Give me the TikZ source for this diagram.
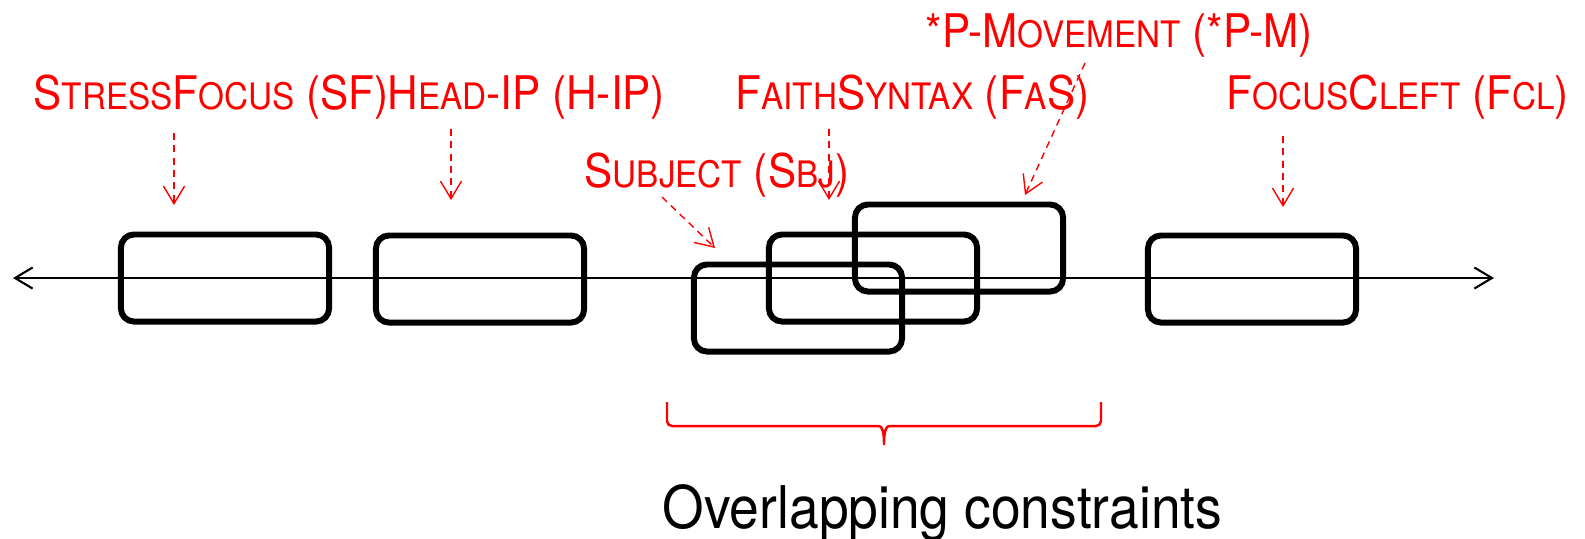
\documentclass[tikz,border=0pt]{standalone}
\usepackage{fontspec}
\setmainfont{TeX Gyre Heros}
\usetikzlibrary{arrows.meta}
\newcommand{\lsc}[1]{{\fontsize{9.6}{11}\selectfont #1}}
\newcommand{\tall}[1]{\scalebox{0.985}[1.08]{#1}}

\begin{document}
\begin{tikzpicture}[x=0.01cm,y=-0.01cm,>={Straight Barb[length=5pt,width=6pt]},
	con node/.style={draw,line width=1.7pt,rounded corners=0.13cm,minimum width=2.08cm,minimum height=0.87cm,inner sep=0},
	lab node/.style={anchor=base west,inner sep=0,text=red,font=\fontsize{12.2}{15}\selectfont},
	hint/.style={->,red,dash pattern=on 2pt off 1.5pt}]
	
	\useasboundingbox (0,0) rectangle (1585,538);
	
	% the line
	\coordinate (left) at (13,278);
	\coordinate (right) at (1494,278);
	\draw[<->,semithick] (left) -- (right);
	
	% constraints
	\node[con node] at (225,278) (sf) {};
	\node[con node] at (480,279) (hip) {};
	\node[con node] at (798,308) (sbj) {};
	\node[con node] at (873,278) (fas) {};
	\node[con node] at (959,248) (pm) {};
	\node[con node] at (1252,279) (fcl) {};
	
	% names
	\node[lab node] at (33,109) (sf lab) {\tall{S\lsc{TRESS}F\lsc{OCUS} (SF)}};
	\node[lab node] at (387,109) (hip lab) {\tall{H\lsc{EAD}-IP (H-IP)}};
	\node[lab node] at (735,109) (fas lab) {\tall{F\lsc{AITH}S\lsc{YNTAX} (F\lsc{A}S)}};
	\node[lab node] at (925,47) (pm lab) {\tall{*P-M\lsc{OVEMENT} (*P-M)}};
	\node[lab node] at (1226,109) (fcl lab) {\tall{F\lsc{OCUS}C\lsc{LEFT} (F\lsc{CL})}};
	\node[lab node] at (584,187) (sbj lab) {\tall{S\lsc{UBJECT} (S\lsc{BJ})}};
	
	\coordinate (sf a) at (174,133);  \coordinate (sf b) at (174,205);
	\coordinate (hip a) at (451,129); \coordinate (hip b) at (451,200);
	\coordinate (sbj a) at (662,197); \coordinate (sbj b) at (715,248);
	\coordinate (fas a) at (829,129); \coordinate (fas b) at (829,200);
	\coordinate (pm a) at (1085,63);  \coordinate (pm b) at (1025,195);
	\coordinate (fcl a) at (1283,136); \coordinate (fcl b) at (1283,207);
	
	\path
	(sf a) edge[hint] (sf b)
	(hip a) edge[hint] (hip b)
	(sbj a) edge[hint] (sbj b)
	(fas a) edge[hint] (fas b)
	(pm a) edge[hint] (pm b)
	(fcl a) edge[hint] (fcl b)
	;
	
	% brace
	\coordinate (bl) at (667,402);
	\coordinate (br) at (1101,402);
	\coordinate (tip) at (884,448);
	\draw[red,line width=0.7pt,rounded corners=0.05cm] (bl) -- (667,426) -- (874,426)
		.. controls (882,426) and (884,432) .. (tip)
		.. controls (884,432) and (886,426) .. (894,426) -- (1101,426) -- (br);
	\node[anchor=base west,inner sep=0,font=\fontsize{15.5}{18}\selectfont] at (662,528) (over) {\scalebox{0.98}[1.08]{Overlapping constraints}};
	
\end{tikzpicture}
\end{document}
